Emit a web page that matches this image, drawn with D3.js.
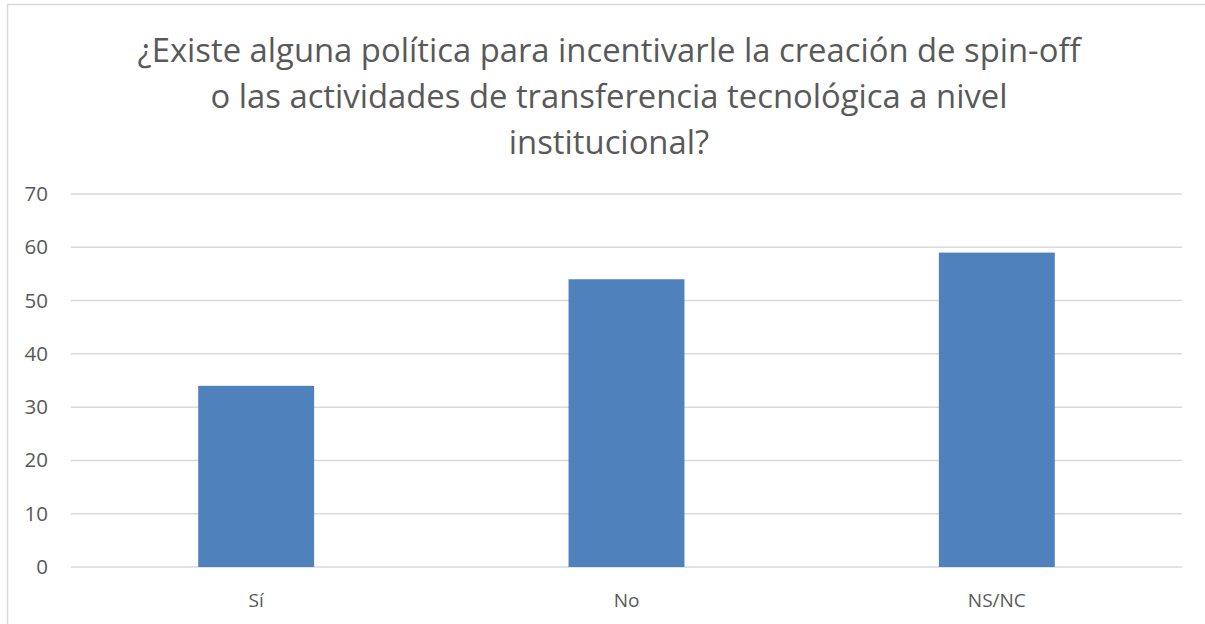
<!DOCTYPE html>
<html>
<head>
<meta charset="utf-8">
<script src="https://cdnjs.cloudflare.com/ajax/libs/d3/7.8.5/d3.min.js"></script>
<style>
  body { margin: 0; background: #fff; }
  svg text { font-family: "Open Sans", sans-serif; fill: #595959; }
</style>
</head>
<body>
<div id="chart"></div>
<script>
var categories = ['Sí', 'No', 'NS/NC'];
var values = [34, 54, 59];
var yTicks = [0, 10, 20, 30, 40, 50, 60, 70];
var titleLines = [
  '¿Existe alguna política para incentivarle la creación de spin-off',
  'o las actividades de transferencia tecnológica a nivel',
  'institucional?'
];

var width = 1205, height = 624;
var margin = { top: 194, right: 23, bottom: 57, left: 71 };

var svg = d3.select('#chart').append('svg')
  .attr('width', width)
  .attr('height', height);

// chart area border (top + left visible)
svg.append('path')
  .attr('d', 'M 7.5 ' + height + ' L 7.5 4.5 L ' + width + ' 4.5')
  .attr('fill', 'none')
  .attr('stroke', '#d9d9d9')
  .attr('stroke-width', 1.5);

svg.selectAll('.title')
  .data(titleLines)
  .enter().append('text')
    .attr('class', 'title')
    .attr('x', 609)
    .attr('y', function(d, i) { return 62 + i * 46; })
    .attr('text-anchor', 'middle')
    .style('font-size', '32.8px')
    .text(function(d) { return d; });

var x = d3.scaleBand()
  .domain(categories)
  .range([margin.left, width - margin.right])
  .paddingInner(0.687)
  .paddingOuter(0.3435);

var y = d3.scaleLinear()
  .domain([0, 70])
  .range([height - margin.bottom, margin.top]);

var g = svg.append('g');

g.selectAll('.grid')
  .data(yTicks)
  .enter().append('line')
    .attr('class', 'grid')
    .attr('x1', margin.left)
    .attr('x2', width - margin.right)
    .attr('y1', function(d) { return y(d); })
    .attr('y2', function(d) { return y(d); })
    .attr('stroke', '#d9d9d9')
    .attr('stroke-width', 1.5);

var yAxis = d3.axisLeft(y).tickValues(yTicks).tickSize(0).tickPadding(0);
svg.append('g')
  .attr('transform', 'translate(48,0)')
  .call(yAxis)
  .call(function(a) { a.select('.domain').remove(); })
  .selectAll('text')
    .style('font-size', '20.5px')
    .attr('fill', '#595959');

g.selectAll('.bar')
  .data(values)
  .enter().append('rect')
    .attr('class', 'bar')
    .attr('x', function(d, i) { return x(categories[i]); })
    .attr('width', x.bandwidth())
    .attr('y', function(d) { return y(d); })
    .attr('height', function(d) { return y(0) - y(d); })
    .attr('fill', '#4f81bd');

var xAxis = d3.axisBottom(x).tickSize(0).tickPadding(0);
svg.append('g')
  .attr('transform', 'translate(0,' + (height - margin.bottom + 26) + ')')
  .call(xAxis)
  .call(function(a) { a.select('.domain').remove(); })
  .selectAll('text')
    .style('font-size', '19px')
    .attr('fill', '#595959');
</script>
</body>
</html>
